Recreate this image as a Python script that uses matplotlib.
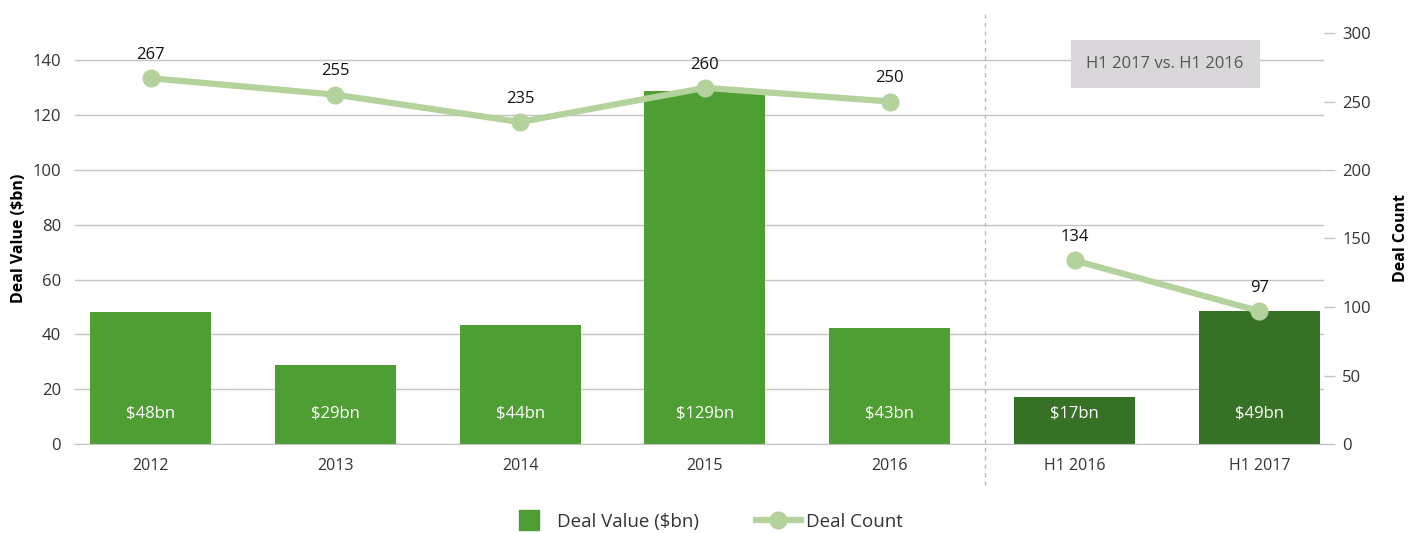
import matplotlib.pyplot as plt
import matplotlib.transforms as mtransforms
from matplotlib.lines import Line2D
import numpy as np

plt.rcParams['font.family'] = ['Open Sans', 'DejaVu Sans']

categories = ['2012', '2013', '2014', '2015', '2016', 'H1 2016', 'H1 2017']
deal_value = [48, 29, 43.5, 129, 42.5, 17, 48.5]
value_labels = ['$48bn', '$29bn', '$44bn', '$129bn', '$43bn', '$17bn', '$49bn']
deal_count = [267, 255, 235, 260, 250, 134, 97]

green = '#4e9e34'
dark_green = '#377126'
line_green = '#b4d29b'
grid_col = '#c4c4c4'
txt = '#333333'

fig = plt.figure(figsize=(14.2, 5.33), dpi=100)
ax = fig.add_axes([75 / 1420, 1 - 444 / 533, (1324 - 75) / 1420, (444 - 33) / 533])
ax2 = ax.twinx()

x = np.arange(len(categories))
colors = [green] * 5 + [dark_green] * 2
ax.bar(x, deal_value, width=0.655, color=colors, zorder=2)
for xi, lab in zip(x, value_labels):
    ax.text(xi, 11, lab, color='white', ha='center', va='center', fontsize=12, zorder=3)

ax.set_xlim(-0.409, 6.35)
ax.set_ylim(0, 150)
ax.set_yticks(range(0, 141, 20))
ax.yaxis.grid(True, color=grid_col, lw=1)
ax.set_axisbelow(True)
ax.set_xticks(x)
ax.set_xticklabels(categories)
ax.tick_params(axis='x', length=0, pad=10, labelsize=11.5, labelcolor=txt)
ax.tick_params(axis='y', length=0, pad=10, labelsize=12, labelcolor=txt)
for s in ['top', 'right', 'left']:
    ax.spines[s].set_visible(False)
ax.spines['bottom'].set_color(grid_col)
ax.set_ylabel('Deal Value ($bn)', fontsize=11.5, fontweight='bold', labelpad=4)

# count line (two segments)
ax2.plot(x[:5], deal_count[:5], color=line_green, lw=4.5, marker='o', ms=12, zorder=4)
ax2.plot(x[5:], deal_count[5:], color=line_green, lw=4.5, marker='o', ms=12, zorder=4)
for xi, c in zip(x, deal_count):
    ax2.annotate(str(c), (xi, c), xytext=(0, 11), textcoords='offset points',
                 ha='center', va='bottom', fontsize=12, color='#111111')
ax2.set_ylim(0, 300)
ax2.set_yticks(range(0, 301, 50))
ax2.tick_params(axis='y', length=8, width=1, color=grid_col, pad=5, labelsize=12, labelcolor=txt)
for s in ax2.spines.values():
    s.set_visible(False)
ax2.set_ylabel('Deal Count', fontsize=11.5, fontweight='bold', labelpad=16)

# separator
trans = mtransforms.blended_transform_factory(ax.transData, ax.transAxes)
ax.plot([4.516, 4.516], [-0.1, 1.05], transform=trans, color='#bbbbbb', lw=1,
        ls=(0, (3, 3)), clip_on=False, zorder=1)

ax2.text(5.49, 0.925, 'H1 2017 vs. H1 2016', transform=trans, ha='center', va='center',
         fontsize=12, color='#555555', zorder=5,
         bbox=dict(boxstyle='square,pad=0.95', fc='#d9d7da', ec='none'))

# legend
handles = [Line2D([], [], color=green, lw=0, marker='s', ms=15, label='Deal Value ($bn)'),
           Line2D([], [], color=line_green, lw=4.5, marker='o', ms=12, label='Deal Count')]
fig.legend(handles=handles, loc='center', bbox_to_anchor=(705 / 1420, 1 - 522 / 533), ncol=2,
           frameon=False, fontsize=13.5, handlelength=2.4, handletextpad=0.3,
           columnspacing=3.0, labelcolor=txt)

fig.savefig('out.png', dpi=100)
